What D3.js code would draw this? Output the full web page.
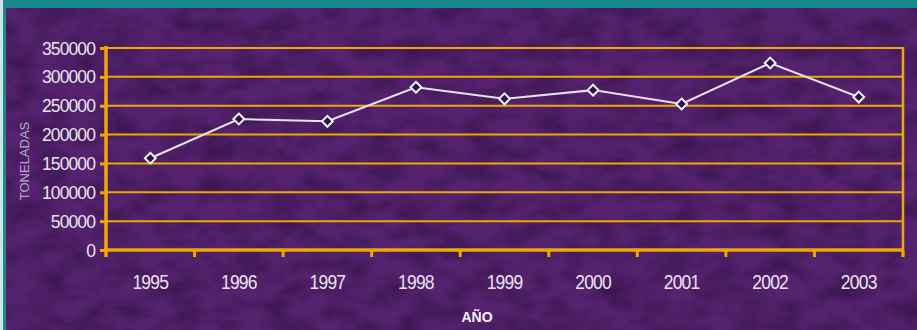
<!DOCTYPE html>
<html>
<head>
<meta charset="utf-8">
<script src="https://cdn.jsdelivr.net/npm/d3@7"></script>
<style>
  html, body { margin: 0; padding: 0; background: #4a1f6b; }
  svg { display: block; }
</style>
</head>
<body>
<svg id="chart" width="917" height="330"></svg>
<script>
// Annual tonnage, 1995–2003
const years = ["1995", "1996", "1997", "1998", "1999", "2000", "2001", "2002", "2003"];
const tonnes = [159000, 227000, 223000, 282000, 262000, 277000, 253000, 324000, 265000];
const yTicks = [0, 50000, 100000, 150000, 200000, 250000, 300000, 350000];

const W = 917, H = 330;
const plot = { left: 106, right: 903, top: 48, bottom: 250 };

const svg = d3.select("#chart");
const defs = svg.append("defs");

// Mottled printed-paper look for the purple panel (darker blotches)
const f = defs.append("filter").attr("id", "mottle")
  .attr("color-interpolation-filters", "sRGB")
  .attr("x", 0).attr("y", 0).attr("width", "100%").attr("height", "100%");
f.append("feTurbulence").attr("type", "fractalNoise")
  .attr("baseFrequency", "0.03 0.05").attr("numOctaves", 3).attr("seed", 7).attr("result", "noise");
f.append("feColorMatrix").attr("in", "noise").attr("type", "matrix")
  .attr("values", "0 0 0 0 0.2  0 0 0 0 0.07  0 0 0 0 0.27  0 0 0 1.4 -0.5")
  .attr("result", "spots");
f.append("feComposite").attr("in", "spots").attr("in2", "SourceGraphic").attr("operator", "over");

// Panel background
svg.append("rect").attr("x", 0).attr("y", 0).attr("width", W).attr("height", H)
  .attr("fill", "#55226f").attr("filter", "url(#mottle)");

// Teal frame at top and left edge
svg.append("rect").attr("x", 0).attr("y", 0).attr("width", W).attr("height", 8).attr("fill", "#17898c");
svg.append("rect").attr("x", 0).attr("y", 0).attr("width", 3).attr("height", H).attr("fill", "#cfe3e2");
svg.append("rect").attr("x", 3).attr("y", 0).attr("width", 3).attr("height", H).attr("fill", "#1a8a8c");

const x = d3.scaleBand().domain(years).range([plot.left, plot.right]).padding(0);
const y = d3.scaleLinear().domain([0, 350000]).range([plot.bottom, plot.top]);

const gold = "#eea800";

// Horizontal gridlines
svg.append("g").selectAll("line").data(yTicks.filter(d => d > 0)).join("line")
  .attr("x1", plot.left).attr("x2", plot.right)
  .attr("y1", d => y(d)).attr("y2", d => y(d))
  .attr("stroke", gold).attr("stroke-width", 2);

// Right border of plot area
svg.append("line")
  .attr("x1", plot.right).attr("x2", plot.right)
  .attr("y1", plot.top - 1).attr("y2", plot.bottom + 7)
  .attr("stroke", gold).attr("stroke-width", 2.5);

const font = "Liberation Sans, Arial, sans-serif";

// Y axis
const yAxis = svg.append("g").attr("transform", `translate(${plot.left},0)`)
  .call(d3.axisLeft(y).tickValues(yTicks).tickFormat(d3.format("d")).tickSize(6).tickPadding(5));
yAxis.select(".domain").attr("stroke", gold).attr("stroke-width", 3.5)
  .attr("d", `M0,${plot.top - 2}V${plot.bottom + 7}`);
yAxis.selectAll(".tick line").attr("stroke", gold).attr("stroke-width", 3);
yAxis.selectAll(".tick text")
  .attr("fill", "#e8e4ec").attr("font-family", font)
  .attr("font-size", 17.5).attr("letter-spacing", -0.9).attr("dy", "0.35em");

// X axis with ticks at category boundaries
const xAxis = svg.append("g").attr("transform", `translate(0,${plot.bottom})`);
xAxis.append("line").attr("x1", plot.left - 2).attr("x2", plot.right + 1)
  .attr("y1", 0).attr("y2", 0).attr("stroke", gold).attr("stroke-width", 3.5);
xAxis.selectAll("line.tk").data(years.slice(1).concat(["end"])).join("line").attr("class", "tk")
  .attr("x1", d => d === "end" ? plot.right : x(d)).attr("x2", d => d === "end" ? plot.right : x(d))
  .attr("y1", 0).attr("y2", 7).attr("stroke", gold).attr("stroke-width", 3);
xAxis.selectAll("text").data(years).join("text")
  .attr("transform", d => `translate(${x(d) + x.bandwidth() / 2},39) scale(1,1.2)`)
  .attr("text-anchor", "middle")
  .attr("fill", "#e8e4ec").attr("font-family", font)
  .attr("font-size", 17.5).attr("letter-spacing", -0.8)
  .text(d => d);

// Axis titles
svg.append("text")
  .attr("transform", "translate(29,161) rotate(-90)")
  .attr("text-anchor", "middle").attr("fill", "#b8a9c8")
  .attr("font-family", font).attr("font-size", 13)
  .text("TONELADAS");
svg.append("text")
  .attr("x", 477).attr("y", 322).attr("text-anchor", "middle")
  .attr("fill", "#f4f2f6").attr("font-family", font)
  .attr("font-weight", "bold").attr("font-size", 14)
  .text("AÑO");

// Series line
const cx = d => x(d) + x.bandwidth() / 2;
const line = d3.line().x((d, i) => cx(years[i])).y(d => y(d));
svg.append("path").datum(tonnes).attr("d", line)
  .attr("fill", "none").attr("stroke", "#e4e2ea").attr("stroke-width", 2);

// Diamond markers
const diamond = d3.symbol().type(d3.symbolDiamond2).size(75);
svg.append("g").selectAll("path").data(tonnes).join("path")
  .attr("d", diamond)
  .attr("transform", (d, i) => `translate(${cx(years[i])},${y(d)})`)
  .attr("fill", "#2a1450").attr("stroke", "#f2f0f6").attr("stroke-width", 2);
</script>
</body>
</html>
